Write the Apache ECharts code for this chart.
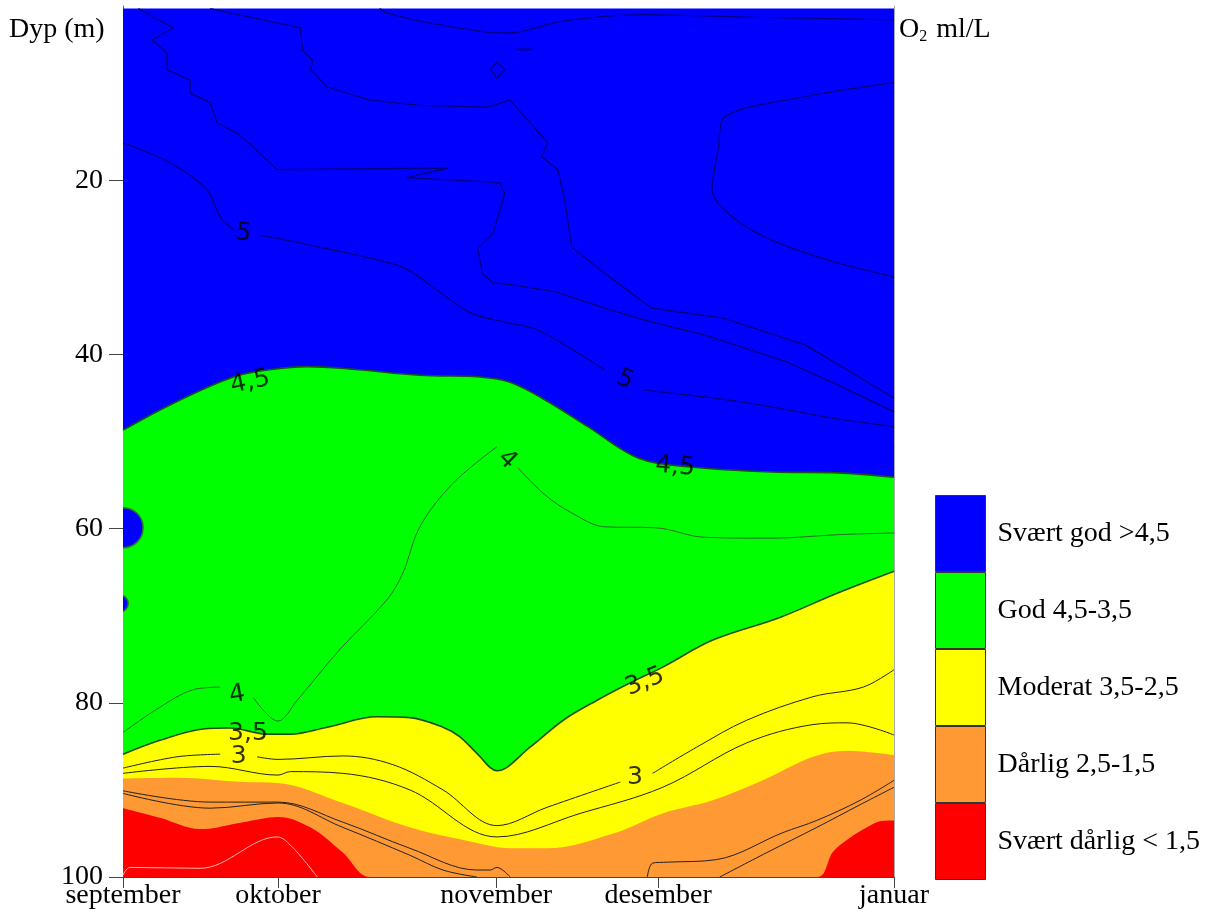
<!DOCTYPE html>
<html>
<head>
<meta charset="utf-8">
<script src="https://cdn.jsdelivr.net/npm/echarts@6.0.0/dist/echarts.min.js"></script>
<style>
  html, body { margin: 0; padding: 0; background: #fff; }
  #main { width: 1218px; height: 919px; }
</style>
</head>
<body>
<div id="main"></div>
<script>
// x = relative position in the period (0 = 1. september, 100 = 1. januar), y = dyp (m)
var monthNames = ['september', 'oktober', 'november', 'desember', 'januar'];
var monthPos = [0, 20.1, 48.4, 69.4, 100];
var depthTicks = [20, 40, 60, 80, 100];

var classNames = ['Svært god >4,5', 'God 4,5-3,5', 'Moderat 3,5-2,5', 'Dårlig 2,5-1,5', 'Svært dårlig < 1,5'];
var classColors = ['#0000ff', '#00ff00', '#ffff00', '#ff9933', '#ff0000'];

// top of each class (the fill goes from the line down to 100 m)
var topBlue = [[0, 0.3], [100, 0.3]];
var b45 = [[0, 48.7], [6.1, 45.8], [14.3, 42.6], [19.5, 41.7], [23.9, 41.4], [29.8, 41.7], [38.5, 42.4],
    [46.3, 42.6], [50.2, 43.2], [54.7, 45.2], [60.3, 48.3], [66.8, 51.9], [73.3, 52.9], [84.2, 53.5],
    [92.7, 53.6], [100, 54.1]];
var b35 = [[0, 85.9], [4.8, 84.3], [10.4, 83.0], [13.9, 82.9], [18.7, 83.6], [21.7, 83.6], [26.5, 82.8],
    [32.9, 81.6], [37.2, 81.7], [41.5, 82.8], [43.7, 83.9], [45.9, 85.8], [48.5, 87.8], [52.8, 85.1],
    [57.1, 82.0], [61.5, 79.7], [65.8, 77.7], [70.0, 75.9], [76.5, 72.8], [85.2, 70.2], [92.7, 67.4], [100, 64.9]];
var b25 = [[0, 88.7], [7.0, 88.6], [15.6, 89.1], [20.0, 89.2], [28.5, 91.5], [37.2, 94.3], [45.9, 96.1],
    [50.2, 96.7], [55.0, 96.7], [63.6, 95.0], [70.0, 92.7], [76.5, 91.2], [83.0, 88.9], [89.5, 86.2],
    [93.9, 85.5], [100, 86.0]];
var b15 = [[0, 92.1], [4.8, 93.2], [10.0, 94.5], [15.6, 93.7], [20.1, 93.1], [24.3, 94.3], [28.5, 97.2],
    [32.0, 100], [45, 100], [60, 100], [75, 100], [90.1, 100], [92.1, 97.1], [94.3, 95.5], [96.5, 94.3],
    [98.2, 93.6], [100, 93.5]];

// små lommer med >4,5 ved venstre kant: [x, dyp, radius i meter]
var blobs = [[0, 59.9, 2.3], [-0.4, 68.6, 0.95]];

// tynne isolinjer (null = brudd for etikett)
var blue1 = [[0, 15.7], [6.1, 18.0], [10.9, 21.1], [12.6, 24.2], [14.3, 25.7], null, [17.8, 26.3], [25.6, 27.7],
    [36.3, 30.0], [40.7, 32.6], [45.0, 35.2], [49.5, 36.3], [53.8, 37.2], [62.5, 41.8], null, [67.7, 44.1],
    [79.8, 45.4], [92.7, 47.4], [100, 48.3]];
var blue2 = [[2.0, 0.3], [6.5, 2.5], [3.8, 3.9], [5.7, 5.4], [5.7, 7.3], [8.7, 8.5], [8.7, 10.0], [11.3, 11.1],
    [12.2, 13.4], [14.8, 14.6], [16.9, 16.2], [20.0, 18.8], [42.2, 18.6], [36.8, 19.7], [47.2, 20.2],
    [48.9, 20.3], [49.5, 21.5], [48.0, 26.1], [46.0, 27.8], [46.6, 30.7], [48.0, 31.8], [50.2, 32.0],
    [56.0, 32.8], [62.5, 34.7], [68.6, 36.3], [75.5, 37.8], [86.2, 40.9], [92.7, 43.5], [100, 46.6]];
var blue3 = [[11.3, 0.3], [23.0, 2.5], [23.3, 5.1], [24.6, 6.2], [24.3, 7.3], [26.5, 9.3], [32.0, 10.8],
    [38.5, 11.4], [47.2, 11.6], [50.2, 10.8], [55.1, 15.7], [54.3, 17.3], [56.4, 18.8], [57.3, 22.3],
    [58.2, 27.7], [62.5, 30.7], [68.6, 34.7], [77.7, 35.8], [88.5, 38.9], [100, 45.0]];
var blue4 = [[33.3, 0.3], [34.2, 0.8], [40.0, 2.0], [47.2, 3.0], [50.2, 3.1], [56.7, 1.8], [67.1, 1.0],
    [82.6, 1.3], [100, 1.6]];
var blue5 = [[100, 8.8], [88.5, 10.4], [78.1, 12.7], [77.2, 16.5], [76.4, 21.1], [79.0, 24.2], [84.2, 26.9],
    [92.7, 29.5], [100, 31.1]];
var blue6 = [[47.7, 7.3], [48.5, 6.4], [49.5, 7.3], [48.5, 8.3], [47.7, 7.3]];
var blue7 = [[51.2, 5.0], [53.0, 5.0]];

var green1 = [[0, 83.4], [4.8, 80.5], [9.1, 78.5], [12.6, 78.2], null, [16.9, 79.4], [20.1, 82.1], [22.6, 79.7],
    [28.1, 73.9], [34.2, 68.2], [36.3, 65.1], [38.5, 59.8], [42.8, 54.8], [48.5, 50.6], null, [51.2, 53.0],
    [54.7, 56.1], [58.2, 58.2], [62.5, 59.8], [69.0, 59.9], [75.5, 61.0], [84.2, 61.1], [92.7, 60.7], [100, 60.5]];

var yellow1 = [[0, 87.5], [7.0, 86.2], [12.6, 85.9], null, [17.4, 86.2], [20.1, 86.5], [28.5, 86.1], [35.0, 87.1],
    [41.5, 90.0], [48.5, 94.1], [55.0, 92.0], [64.5, 89.1], null, [68.7, 88.1], [74.4, 85.1], [80.9, 82.0],
    [89.5, 79.3], [96.0, 78.2], [100, 76.2]];
var yellow2 = [[0, 88.1], [11.3, 87.3], [20.1, 88.3], [21.7, 87.9], [28.5, 88.1], [37.2, 90.0], [48.5, 95.4],
    [59.3, 92.7], [70.0, 89.7], [80.9, 84.6], [89.5, 82.5], [93.9, 82.3], [100, 83.7]];

var orange1 = [[0, 90.1], [11.3, 91.4], [20.1, 91.4], [28.5, 93.7], [37.2, 96.7], [45.9, 99.2], [47.6, 99.2],
    [48.5, 98.9], [50.2, 100]];
var orange2 = [[0, 90.4], [11.3, 92.1], [20.1, 91.5], [28.5, 94.3], [37.2, 97.5], [41.5, 99.2], [45.9, 100]];
var orange3 = [[68.0, 100], [68.7, 98.4], [70.6, 98.3], [77.0, 98.0], [85.6, 94.9], [90.0, 93.5], [95.6, 91.2], [100, 88.9]];
var orange4 = [[77.4, 100], [83.5, 97.2], [90.0, 94.3], [95.6, 91.7], [100, 89.7]];

var red1 = [[0, 99.8], [0.9, 98.9], [10.0, 99.0], [20.0, 95.4], [22.0, 96.6], [25.2, 100]];

// isolinje-etiketter
var labelText = ['5', '4,5', '5', '4', '4,5', '4', '3,5', '3', '3,5', '3'];
var labelPos = [[15.6, 26.1], [16.5, 43.2], [65.1, 42.9], [49.8, 52.1], [71.6, 52.9], [14.8, 79.1], [16.2, 83.5],
    [15.0, 86.2], [67.7, 77.6], [66.4, 88.6]];
var labelRot = [-8, 12, -25, -45, -5, 10, 0, 0, 22, 0];

function fix(arr) {
    return arr.map(function (p) {
        return p ? p : ['-', '-'];
    });
}

var serif = 'Liberation Serif';

var series = [];
var tops = [topBlue, b45, b35, b25, b15];
for (var i = 0; i < tops.length; i++) {
    var edge = (i == 1 || i == 2);
    series.push({
        name: classNames[i],
        type: 'line',
        data: tops[i],
        smooth: 0.35,
        symbol: 'none',
        silent: true,
        itemStyle: { color: classColors[i] },
        lineStyle: edge ? { color: '#1d4f1d', width: 1.6 } : { width: 0, color: classColors[i] },
        areaStyle: { color: classColors[i], opacity: 1, origin: 'end' },
        z: 1 + i
    });
}

// blå lommer, klippet mot plottet
series.push({
    type: 'custom',
    silent: true,
    data: blobs,
    renderItem: function (params, api) {
        var c = api.coord([api.value(0), api.value(1)]);
        var r = api.size([0, api.value(2)])[1];
        var cs = params.coordSys;
        return {
            type: 'circle',
            shape: { cx: c[0], cy: c[1], r: r },
            style: { fill: '#0000ff', stroke: '#2f6e2f', lineWidth: 1.5 },
            clipPath: { type: 'rect', shape: { x: cs.x, y: cs.y, width: cs.width, height: cs.height } }
        };
    },
    z: 8
});

function thin(data, color, width, smooth) {
    series.push({
        type: 'line',
        data: fix(data),
        smooth: smooth,
        symbol: 'none',
        silent: true,
        connectNulls: false,
        lineStyle: { color: color, width: width },
        z: 9
    });
}
var navy = '#00007c';
thin(blue1, navy, 1.3, 0.3);
thin(blue2, navy, 1.3, false);
thin(blue3, navy, 1.3, false);
thin(blue4, navy, 1.3, 0.3);
thin(blue5, navy, 1.3, 0.3);
thin(blue6, navy, 1.3, false);
thin(blue7, navy, 2, false);
thin(green1, '#2e6a2e', 1, 0.35);
thin(yellow1, '#222', 1, 0.35);
thin(yellow2, '#222', 1, 0.35);
thin(orange1, '#222', 1, 0.35);
thin(orange2, '#222', 1, 0.35);
thin(orange3, '#222', 1, 0.35);
thin(orange4, '#222', 1, 0.35);
thin(red1, '#ffb3b3', 1, 0.35);

series.push({
    type: 'scatter',
    symbolSize: 2,
    silent: true,
    itemStyle: { color: 'rgba(0,0,0,0)' },
    label: {
        show: true,
        position: 'inside',
        color: '#000',
        fontFamily: 'DejaVu Sans',
        fontSize: 25
    },
    data: labelPos.map(function (p, k) {
        return { value: p, label: { formatter: labelText[k], rotate: labelRot[k] } };
    }),
    z: 12
});

var chart = echarts.init(document.getElementById('main'));
chart.setOption({
    animation: false,
    backgroundColor: '#fff',
    grid: { left: 123, top: 6, width: 771, height: 871 },
    xAxis: {
        type: 'value',
        min: 0,
        max: 100,
        position: 'bottom',
        splitLine: { show: false },
        axisLine: { onZero: false, lineStyle: { color: '#444', width: 1 } },
        axisTick: { customValues: monthPos, length: 11, lineStyle: { color: '#444' } },
        axisLabel: {
            customValues: monthPos,
            margin: 5,
            color: '#000',
            fontFamily: serif,
            fontSize: 28,
            formatter: function (v) {
                var k = monthPos.indexOf(v);
                return k >= 0 ? monthNames[k] : '';
            }
        }
    },
    yAxis: [{
        type: 'value',
        inverse: true,
        min: 0,
        max: 100,
        interval: 20,
        splitLine: { show: false },
        axisLine: { show: true, onZero: false, lineStyle: { color: '#666' } },
        axisTick: { customValues: depthTicks, length: 14, lineStyle: { color: '#444' } },
        axisLabel: {
            customValues: depthTicks,
            margin: 20,
            color: '#000',
            fontFamily: serif,
            fontSize: 28
        }
    }, {
        type: 'value',
        inverse: true,
        min: 0,
        max: 100,
        position: 'right',
        splitLine: { show: false },
        axisLine: { show: true, onZero: false, lineStyle: { color: '#aaa' } },
        axisTick: { show: false },
        axisLabel: { show: false }
    }],
    legend: {
        data: classNames,
        orient: 'vertical',
        left: 935,
        top: 495,
        padding: 0,
        itemGap: 0,
        itemWidth: 50,
        itemHeight: 76,
        icon: 'rect',
        selectedMode: false,
        itemStyle: { borderColor: '#333', borderWidth: 1 },
        textStyle: { fontFamily: serif, fontSize: 28, color: '#000', padding: [0, 0, 0, 7] }
    },
    graphic: [{
        type: 'text',
        left: 9,
        top: 16,
        style: { text: 'Dyp (m)', font: '28px "Liberation Serif"', fill: '#000' }
    }, {
        type: 'text',
        left: 899,
        top: 16,
        style: {
            text: '{a|O}{b|2}{a| ml/L}',
            fill: '#000',
            rich: {
                a: { fontFamily: serif, fontSize: 28 },
                b: { fontFamily: serif, fontSize: 16, padding: [14, 2, 0, 0] }
            }
        }
    }],
    series: series
});
</script>
</body>
</html>
